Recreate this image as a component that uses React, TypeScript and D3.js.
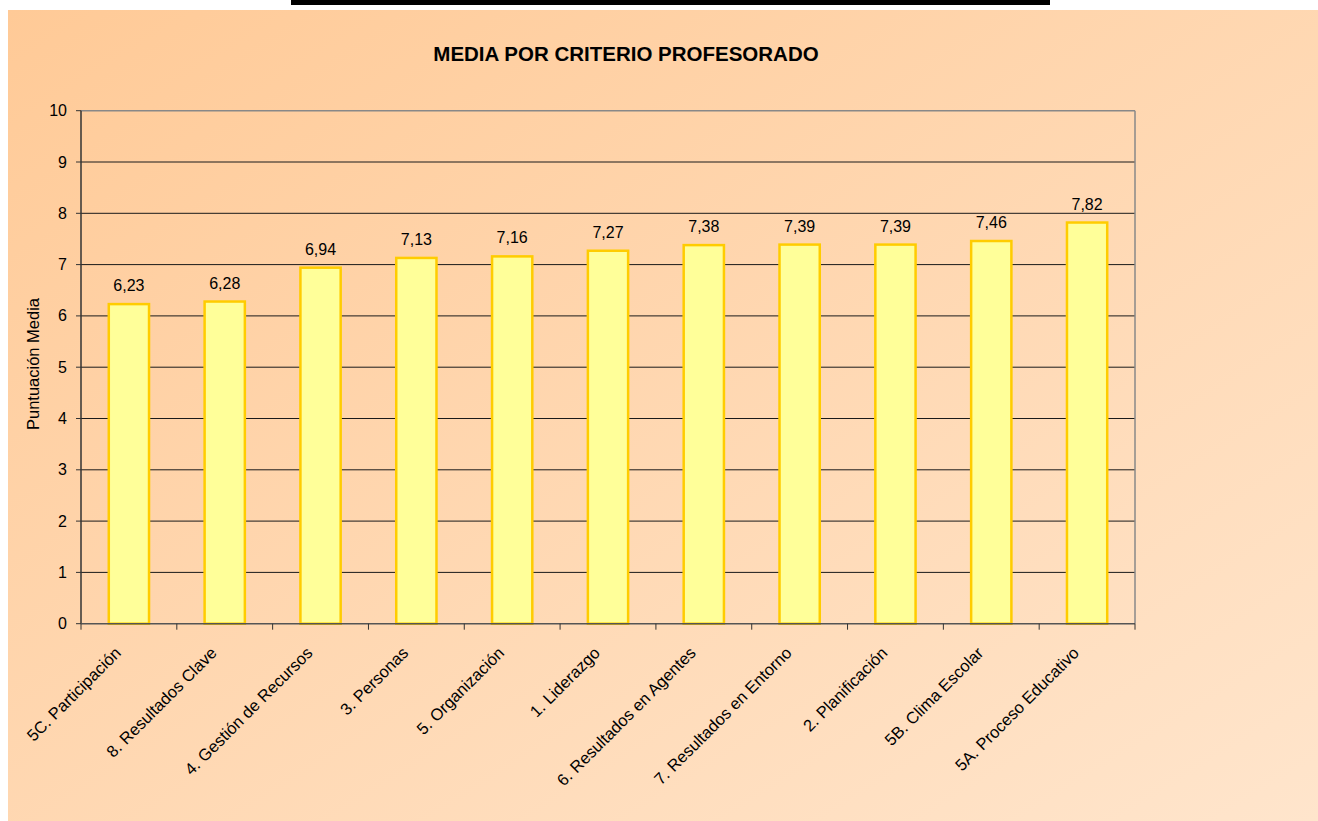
import React from "react";
import * as d3 from "d3";

const categories: string[] = [
  "5C. Participación",
  "8. Resultados Clave",
  "4. Gestión de Recursos",
  "3. Personas",
  "5. Organización",
  "1. Liderazgo",
  "6. Resultados en Agentes",
  "7. Resultados en Entorno",
  "2. Planificación",
  "5B. Clima Escolar",
  "5A. Proceso Educativo",
];
const values: number[] = [6.23, 6.28, 6.94, 7.13, 7.16, 7.27, 7.38, 7.39, 7.39, 7.46, 7.82];
const yTicks: number[] = [0, 1, 2, 3, 4, 5, 6, 7, 8, 9, 10];
const title = "MEDIA POR CRITERIO PROFESORADO";
const yTitle = "Puntuación Media";

const W = 1318;
const H = 821;
const left = 81;
const right = 1135;
const top = 110.7;
const bottom = 623.7;

export default function App() {
  const x = d3
    .scaleBand<string>()
    .domain(categories)
    .range([left, right])
    .paddingInner(0.58)
    .paddingOuter(0.29);
  const y = d3.scaleLinear().domain([0, 10]).range([bottom, top]);
  const step = x.step();
  const fmt = (v: number) => v.toFixed(2).replace(".", ",");
  const font = "'Liberation Sans', Arial, sans-serif";
  const boundaries = d3.range(categories.length + 1).map((i) => left + i * step);

  return (
    <svg
      width={W}
      height={H}
      style={{ position: "absolute", left: 0, top: 0, display: "block" }}
      fontFamily={font}
    >
      <defs>
        <linearGradient id="bg" x1="0" y1="0" x2="1" y2="1">
          <stop offset="0%" stopColor="#FFCA97" />
          <stop offset="100%" stopColor="#FFE5CC" />
        </linearGradient>
      </defs>
      <rect x={0} y={0} width={W} height={H} fill="#ffffff" />
      <rect x={291} y={0} width={759} height={5} fill="#000000" />
      <rect x={8} y={10} width={W - 8} height={H - 10} fill="url(#bg)" />

      <text x={626} y={61} textAnchor="middle" fontSize={20.5} fontWeight="bold" fill="#000">
        {title}
      </text>

      {/* gridlines */}
      {yTicks
        .filter((t) => t > 0 && t < 10)
        .map((t) => (
          <line key={"g" + t} x1={left} x2={right} y1={y(t)} y2={y(t)} stroke="#1a1a1a" strokeWidth={1} />
        ))}
      {/* frame top & right */}
      <line x1={left} x2={right} y1={y(10)} y2={y(10)} stroke="#888888" strokeWidth={1.5} />
      <line x1={right} x2={right} y1={y(10)} y2={bottom} stroke="#888888" strokeWidth={1.5} />

      {/* bars */}
      {categories.map((c, i) => (
        <rect
          key={"b" + c}
          x={x(c)}
          y={y(values[i])}
          width={x.bandwidth()}
          height={bottom - y(values[i])}
          fill="#FFFF99"
          stroke="#FFCC00"
          strokeWidth={2.5}
        />
      ))}

      {/* value labels */}
      {categories.map((c, i) => (
        <text
          key={"v" + c}
          x={(x(c) as number) + x.bandwidth() / 2}
          y={y(values[i]) - 13}
          textAnchor="middle"
          fontSize={16}
          fill="#000"
        >
          {fmt(values[i])}
        </text>
      ))}

      {/* axes */}
      <line x1={left} x2={left} y1={top} y2={bottom} stroke="#333333" strokeWidth={1.5} />
      <line x1={left} x2={right} y1={bottom} y2={bottom} stroke="#555555" strokeWidth={1.5} />
      {yTicks.map((t) => (
        <g key={"yt" + t}>
          <line x1={left - 5} x2={left} y1={y(t)} y2={y(t)} stroke="#333" strokeWidth={1} />
          <text x={67} y={y(t) + 5.5} textAnchor="end" fontSize={16} fill="#000">
            {t}
          </text>
        </g>
      ))}
      {boundaries.map((b, i) => (
        <line key={"xt" + i} x1={b} x2={b} y1={bottom} y2={bottom + 6} stroke="#333" strokeWidth={1} />
      ))}
      {categories.map((c) => {
        const cx = (x(c) as number) + x.bandwidth() / 2 - 7;
        const cy = 654;
        return (
          <text
            key={"xl" + c}
            x={cx}
            y={cy}
            textAnchor="end"
            fontSize={16.5}
            fill="#000"
            transform={`rotate(-45 ${cx} ${cy})`}
          >
            {c}
          </text>
        );
      })}

      <text
        x={39}
        y={364}
        textAnchor="middle"
        fontSize={16.5}
        fill="#000"
        transform={`rotate(-90 39 364)`}
      >
        {yTitle}
      </text>
    </svg>
  );
}
